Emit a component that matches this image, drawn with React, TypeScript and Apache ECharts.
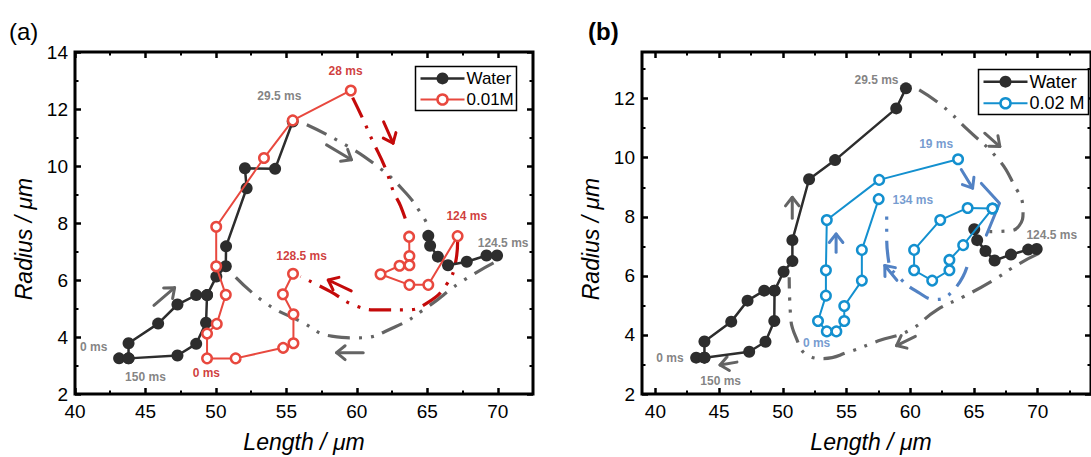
import React, { useEffect, useRef } from 'react';
import * as echarts from 'echarts';

const FONT = '"Liberation Sans", Arial, Helvetica, sans-serif';

// ---------- axes ----------
const X_RANGE_A = [40, 72.5];
const Y_RANGE_A = [2, 14];
const X_RANGE_B = [38.95, 74.18];
const Y_RANGE_B = [2, 13.58];
const X_MAJOR = [40, 45, 50, 55, 60, 65, 70];
const X_MINOR = [42.5, 47.5, 52.5, 57.5, 62.5, 67.5, 72.5];
const Y_MAJOR_A = [2, 4, 6, 8, 10, 12, 14];
const Y_MINOR_A = [3, 5, 7, 9, 11, 13];
const Y_MAJOR_B = [2, 4, 6, 8, 10, 12];
const Y_MINOR_B = [3, 5, 7, 9, 11, 13];

// ---------- panel (a) data ----------
const waterA_rise = [[43.13, 3.25], [43.8, 3.25], [43.8, 3.78], [45.9, 4.47], [47.27, 5.14], [48.6, 5.47], [49.37, 5.47], [50.03, 6.12], [50.7, 6.48], [50.72, 7.18], [52.18, 9.22], [52.06, 9.92], [54.2, 9.9], [55.45, 11.56]];
const waterA_return = [[49.37, 5.47], [49.3, 4.5], [48.6, 3.76], [47.27, 3.35], [43.8, 3.25]];
const waterA_right = [[65.07, 7.55], [65.2, 7.2], [65.75, 6.82], [66.47, 6.52], [67.8, 6.64], [69.2, 6.86], [69.95, 6.86]];
const redA_main = [[55.47, 6.22], [54.75, 5.5], [55.5, 4.8], [55.5, 3.78], [54.77, 3.62], [51.4, 3.25], [49.37, 3.25], [49.37, 4.12], [50.06, 4.46], [50.7, 5.48], [50.02, 6.48], [50.02, 7.87], [53.41, 10.28], [55.45, 11.6], [59.57, 12.65]];
const redA_loop = [[63.71, 7.52], [63.73, 6.84], [63.73, 6.52], [63.03, 6.5], [61.68, 6.2], [63.73, 5.83], [65.07, 5.83], [67.15, 7.54]];

// ---------- panel (b) data ----------
const waterB_rise = [[43.2, 3.23], [43.85, 3.23], [43.85, 3.78], [45.95, 4.45], [47.23, 5.16], [48.54, 5.5], [49.35, 5.5], [50.06, 6.14], [50.75, 6.5], [50.75, 7.21], [52.06, 9.27], [54.1, 9.92], [58.9, 11.67], [59.66, 12.35]];
const waterB_return = [[49.35, 5.5], [49.33, 4.47], [48.64, 3.77], [47.36, 3.43], [43.85, 3.23]];
const waterB_right = [[65.02, 7.58], [65.25, 7.21], [65.9, 6.84], [66.62, 6.52], [67.9, 6.72], [69.25, 6.89], [69.92, 6.91]];
const blueB_main = [[57.52, 8.6], [56.2, 6.88], [56.2, 5.84], [54.82, 4.98], [54.82, 4.47], [54.2, 4.12], [53.45, 4.12], [52.76, 4.47], [53.38, 5.33], [53.38, 6.19], [53.45, 7.89], [57.56, 9.25], [63.75, 9.95]];
const blueB_spiral = [[66.45, 8.28], [64.5, 8.3], [62.35, 7.89], [60.3, 6.88], [60.3, 6.19], [61.72, 5.84], [63.07, 6.19], [63.07, 6.54], [64.15, 7.04], [66.45, 8.28]];

// ---------- annotation paths (data space) ----------
const grayA_1 = [[56.45, 11.45], [58.8, 10.85], [61.3, 10.05], [63.3, 9.15], [64.6, 8.3], [65.15, 7.8]];
const grayA_2 = [[69.7, 6.6], [67.3, 5.9], [65.0, 5.05], [62.7, 4.35], [60.0, 3.97], [58.2, 4.03], [56.0, 4.55], [53.5, 5.2], [51.2, 6.2]];
const redA_1 = [[59.7, 12.4], [60.4, 11.68], [61.1, 10.9], [62.0, 9.95], [62.6, 9.1], [63.1, 8.6], [63.6, 7.9]];
const redA_2 = [[67.15, 7.35], [67.0, 6.6], [66.3, 5.8], [65.0, 5.2], [63.5, 4.95], [61.6, 4.95], [59.8, 5.12], [58.1, 5.6], [56.0, 6.12]];
const grayB_1 = [[60.7, 12.3], [62.5, 11.76], [64.5, 10.95], [66.8, 10.0], [68.0, 9.2], [68.85, 8.2], [68.55, 7.7], [67.6, 7.52], [66.2, 7.5]];
const grayB_2 = [[70.1, 6.76], [68.5, 6.4], [66.5, 5.85], [64.2, 5.3], [62.1, 4.85], [59.9, 4.15], [57.5, 3.8], [55.2, 3.43], [53.2, 3.2], [52.0, 3.3], [51.0, 3.95], [50.6, 4.7], [50.5, 5.95]];
const blueB_2 = [[64.45, 6.3], [63.4, 5.52], [62.0, 5.2], [60.6, 5.45], [59.2, 5.92], [58.3, 6.5], [58.15, 7.44], [58.15, 8.1]];
const blueB_chevron = [[65.58, 9.13], [67.0, 8.46], [65.97, 7.38]];

// arrows: [tail, tip]
const arrowsA_gray = [[[57.85, 10.74], [59.62, 10.22]], [[60.45, 3.45], [58.56, 3.45]], [[45.6, 5.11], [47.07, 5.73]]];
const arrowsA_red = [[[61.9, 11.55], [62.57, 10.8]], [[59.6, 5.62], [57.97, 6.0]]];
const arrowsB_gray = [[[65.84, 10.83], [67.03, 10.38]], [[60.4, 3.95], [58.92, 3.64]], [[50.74, 7.95], [50.74, 8.66]], [[46.4, 3.08], [45.07, 2.98]]];
const arrowsB_blue = [[[64.0, 9.6], [64.89, 8.97]], [[58.95, 5.85], [58.0, 6.35]], [[54.18, 6.8], [54.18, 7.42]]];

// ---------- time labels ----------
const labelsA_gray = [{ t: '29.5 ms', p: [54.5, 12.44] }, { t: '124.5 ms', p: [70.38, 7.3] }, { t: '0 ms', p: [41.33, 3.64] }, { t: '150 ms', p: [45.0, 2.59] }];
const labelsA_red = [{ t: '28 ms', p: [59.2, 13.32] }, { t: '124 ms', p: [67.8, 8.24] }, { t: '128.5 ms', p: [56.08, 6.84] }, { t: '0 ms', p: [49.32, 2.73] }];
const labelsB_gray = [{ t: '29.5 ms', p: [57.35, 12.63] }, { t: '124.5 ms', p: [71.1, 7.38] }, { t: '0 ms', p: [41.15, 3.21] }, { t: '150 ms', p: [45.12, 2.45] }];
const labelsB_blue = [{ t: '19 ms', p: [62.03, 10.45] }, { t: '134 ms', p: [60.2, 8.58] }, { t: '0 ms', p: [52.65, 3.71] }];

// ---------- styling / layout ----------
const GRID_A = { left: 75, top: 52, width: 458, height: 342 };
const GRID_B = { left: 642, top: 52, width: 458, height: 342 };
const C_WATER = '#2d2d2d';
const C_RED = '#e8483e';
const C_BLUE = '#1390cf';
const C_GRAY_ANN = '#646464';
const C_RED_ANN = '#c40a0a';
const C_BLUE_ANN = '#5282c4';

function axisSet(dim: 'x' | 'y', gridIndex: number, range: number[], majors: number[], minors: number[]) {
  const base: any = { type: 'value', gridIndex, min: range[0], max: range[1], splitLine: { show: false }, axisLine: { show: false } };
  const positions = dim === 'x' ? ['bottom', 'top'] : ['left', 'right'];
  const out: any[] = [];
  positions.forEach((pos, pi) => {
    out.push({
      ...base, position: pos,
      axisTick: { show: true, inside: true, length: 6, customValues: majors, lineStyle: { color: '#000', width: 2.5 } },
      axisLabel: pi === 0 ? { show: true, customValues: majors, fontSize: 19, color: '#000', fontFamily: FONT, margin: dim === 'x' ? 8 : 7 } : { show: false },
    });
    out.push({
      ...base, position: pos,
      axisTick: { show: true, inside: true, length: 3.5, customValues: minors, lineStyle: { color: '#000', width: 2 } },
      axisLabel: { show: false },
    });
  });
  return out;
}

function waterSeries(data: number[][], ai: number) {
  return { type: 'line', xAxisIndex: ai, yAxisIndex: ai, data, symbol: 'circle', symbolSize: 12, showSymbol: true, silent: true, z: 3,
    lineStyle: { color: C_WATER, width: 2.5 }, itemStyle: { color: C_WATER } };
}
function openSeries(data: number[][], ai: number, color: string) {
  return { type: 'line', xAxisIndex: ai, yAxisIndex: ai, data, symbol: 'circle', symbolSize: 9.5, showSymbol: true, silent: true, z: 4,
    lineStyle: { color, width: 2 }, itemStyle: { color: '#ffffff', borderColor: color, borderWidth: 2.5 } };
}
function dashSeries(data: number[][], ai: number, color: string) {
  return { type: 'line', xAxisIndex: ai, yAxisIndex: ai, data, smooth: 0.5, symbol: 'none', silent: true, z: 2,
    lineStyle: { color, width: 3.2, type: [22, 9, 3, 9, 3, 9], cap: 'butt' } };
}
function plainSeries(data: number[][], ai: number, color: string, width = 3) {
  return { type: 'line', xAxisIndex: ai, yAxisIndex: ai, data, symbol: 'none', silent: true, z: 2,
    lineStyle: { color, width, cap: 'round', join: 'round' } };
}
function arrowHead(tail: number[], tip: number[], sx: number, sy: number, len = 11, ang = 0.68) {
  const dx = (tip[0] - tail[0]) * sx, dy = (tip[1] - tail[1]) * sy;
  const L = Math.hypot(dx, dy) || 1;
  const ux = -dx / L, uy = -dy / L;
  const rot = (a: number) => [ux * Math.cos(a) - uy * Math.sin(a), ux * Math.sin(a) + uy * Math.cos(a)];
  const a = rot(ang), b = rot(-ang);
  return [[tip[0] + a[0] * len / sx, tip[1] + a[1] * len / sy], tip, [tip[0] + b[0] * len / sx, tip[1] + b[1] * len / sy]];
}
function arrowSeries(arrows: number[][][], ai: number, color: string, sx: number, sy: number) {
  const out: any[] = [];
  arrows.forEach(([tail, tip]) => {
    out.push(plainSeries([tail, tip], ai, color));
    out.push(plainSeries(arrowHead(tail, tip, sx, sy), ai, color));
  });
  return out;
}
function labelSeries(items: { t: string; p: number[] }[], ai: number, color: string) {
  return { type: 'scatter', xAxisIndex: ai, yAxisIndex: ai, symbolSize: 1, silent: true, z: 6,
    itemStyle: { color: 'transparent' },
    data: items.map((l) => ({ name: l.t, value: l.p })),
    label: { show: true, position: 'inside', formatter: '{b}', color, fontSize: 12, fontWeight: 'bold', fontFamily: FONT } };
}

function legend(box: number[], fontSize: number, second: string, color: string) {
  const [x, y, w, h] = box;
  const y1 = y + h * 0.27, y2 = y + h * 0.75;
  const lx0 = x + 5, lx1 = x + 49, cx = x + 27, tx = x + 51;
  return [
    { type: 'rect', z: 100, shape: { x, y, width: w, height: h }, style: { fill: '#fff', stroke: '#000', lineWidth: 1.5 } },
    { type: 'line', z: 101, shape: { x1: lx0, y1, x2: lx1, y2: y1 }, style: { stroke: C_WATER, lineWidth: 2.5 } },
    { type: 'circle', z: 102, shape: { cx, cy: y1, r: 6 }, style: { fill: C_WATER } },
    { type: 'text', z: 102, x: tx, y: y1, style: { text: 'Water', fontSize, fontFamily: FONT, fill: '#000', align: 'left', verticalAlign: 'middle' } },
    { type: 'line', z: 101, shape: { x1: lx0, y1: y2, x2: lx1, y2 }, style: { stroke: color, lineWidth: 2 } },
    { type: 'circle', z: 102, shape: { cx, cy: y2, r: 5 }, style: { fill: '#fff', stroke: color, lineWidth: 2.5 } },
    { type: 'text', z: 102, x: tx, y: y2, style: { text: second, fontSize, fontFamily: FONT, fill: '#000', align: 'left', verticalAlign: 'middle' } },
  ];
}

function titleText(text: string, x: number, y: number, rotate = false) {
  return { type: 'text', z: 50, x, y, rotation: rotate ? Math.PI / 2 : 0,
    style: { text, fontSize: 23, fontStyle: 'italic', fontFamily: FONT, fill: '#000', align: 'center', verticalAlign: 'middle' } };
}

export default function App() {
  const ref = useRef<HTMLDivElement>(null);
  useEffect(() => {
    if (!ref.current) return;
    const chart = echarts.init(ref.current, undefined, { renderer: 'svg' });
    const SXA = GRID_A.width / (X_RANGE_A[1] - X_RANGE_A[0]);
    const SYA = GRID_A.height / (Y_RANGE_A[1] - Y_RANGE_A[0]);
    const SXB = GRID_B.width / (X_RANGE_B[1] - X_RANGE_B[0]);
    const SYB = GRID_B.height / (Y_RANGE_B[1] - Y_RANGE_B[0]);
    const gridStyle = { show: true, borderColor: '#000', borderWidth: 3, backgroundColor: 'transparent', containLabel: false };
    const option: any = {
      animation: false,
      backgroundColor: '#ffffff',
      grid: [{ ...GRID_A, ...gridStyle }, { ...GRID_B, ...gridStyle }],
      xAxis: [...axisSet('x', 0, X_RANGE_A, X_MAJOR, X_MINOR), ...axisSet('x', 1, X_RANGE_B, X_MAJOR, X_MINOR)],
      yAxis: [...axisSet('y', 0, Y_RANGE_A, Y_MAJOR_A, Y_MINOR_A), ...axisSet('y', 1, Y_RANGE_B, Y_MAJOR_B, Y_MINOR_B)],
      series: [
        // panel a annotations
        dashSeries(grayA_1, 0, C_GRAY_ANN),
        dashSeries(grayA_2, 0, C_GRAY_ANN),
        dashSeries(redA_1, 0, C_RED_ANN),
        dashSeries(redA_2, 0, C_RED_ANN),
        ...arrowSeries(arrowsA_gray, 0, C_GRAY_ANN, SXA, SYA),
        ...arrowSeries(arrowsA_red, 0, C_RED_ANN, SXA, SYA),
        // panel a data
        waterSeries(waterA_rise, 0),
        waterSeries(waterA_return, 0),
        waterSeries(waterA_right, 0),
        openSeries(redA_main, 0, C_RED),
        openSeries(redA_loop, 0, C_RED),
        labelSeries(labelsA_gray, 0, C_GRAY_ANN),
        labelSeries(labelsA_red, 0, C_RED_ANN),
        // panel b annotations
        dashSeries(grayB_1, 4, C_GRAY_ANN),
        dashSeries(grayB_2, 4, C_GRAY_ANN),
        dashSeries(blueB_2, 4, C_BLUE_ANN),
        plainSeries(blueB_chevron, 4, C_BLUE_ANN),
        ...arrowSeries(arrowsB_gray, 4, C_GRAY_ANN, SXB, SYB),
        ...arrowSeries(arrowsB_blue, 4, C_BLUE_ANN, SXB, SYB),
        // panel b data
        openSeries(blueB_main, 4, C_BLUE),
        openSeries(blueB_spiral, 4, C_BLUE),
        waterSeries(waterB_rise, 4),
        waterSeries(waterB_return, 4),
        waterSeries(waterB_right, 4),
        labelSeries(labelsB_gray, 4, C_GRAY_ANN),
        labelSeries(labelsB_blue, 4, C_BLUE_ANN),
      ],
      graphic: [
        { type: 'text', z: 50, x: 9, y: 31, style: { text: '(a)', fontSize: 24, fontFamily: FONT, fill: '#000', align: 'left', verticalAlign: 'middle' } },
        { type: 'text', z: 50, x: 588, y: 31, style: { text: '(b)', fontSize: 24, fontWeight: 'bold', fontFamily: FONT, fill: '#000', align: 'left', verticalAlign: 'middle' } },
        titleText('Length / \u03bcm', 304, 442),
        titleText('Length / \u03bcm', 871, 442),
        titleText('Radius / \u03bcm', 24, 239, true),
        titleText('Radius / \u03bcm', 591, 239, true),
        ...legend([415.5, 66.5, 101, 44], 17, '0.01M', C_RED),
        ...legend([978.5, 69.5, 110, 45], 18, '0.02 M', C_BLUE),
      ],
    };
    chart.setOption(option);
    return () => chart.dispose();
  }, []);
  return <div ref={ref} style={{ position: 'fixed', left: 0, top: 0, width: 1091, height: 457, background: '#fff' }} />;
}
